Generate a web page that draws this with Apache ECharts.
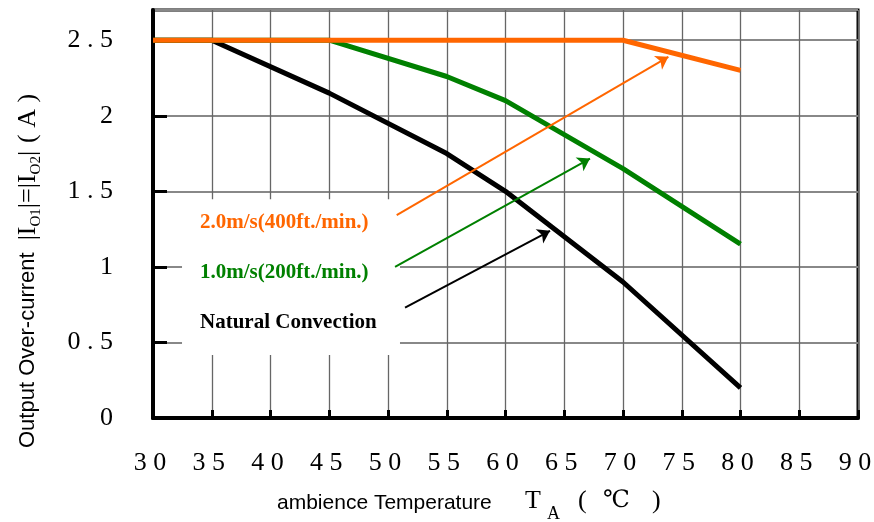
<!DOCTYPE html>
<html><head><meta charset="utf-8">
<script src="https://cdn.jsdelivr.net/npm/echarts@6/dist/echarts.min.js"></script>
<style>html,body{margin:0;padding:0;background:#fff}#c{width:874px;height:522px}</style>
</head><body><div id="c"></div>
<script>
// ---- data ----
const xMin = 30, xMax = 90, xStep = 5;
const yMin = 0, yMax = 2.7, yStep = 0.5;
const natTemp = [30, 35, 45, 55, 60, 70, 80];
const natVal  = [2.5, 2.5, 2.15, 1.75, 1.5, 0.9, 0.2];
const lowTemp = [30, 45, 55, 60, 70, 80];
const lowVal  = [2.5, 2.5, 2.26, 2.1, 1.65, 1.15];
const highTemp = [30, 70, 80];
const highVal  = [2.5, 2.5, 2.3];
const seriesNames = ['Natural Convection', '1.0m/s(200ft./min.)', '2.0m/s(400ft./min.)'];
const seriesColors = ['#000000', '#008000', '#FF6600'];
// annotation arrows (data coordinates): start, end
const arrowStart = [[51.45, 0.73], [50.6, 1.0], [50.74, 1.343]];
const arrowEnd   = [[63.79, 1.239], [67.19, 1.717], [73.86, 2.39]];
// white label box (data coordinates)
const boxFrom = [32.47, 0.417];
const boxTo   = [51.02, 1.448];

const SERIF = '"Liberation Serif","Times New Roman",serif';
const SANS = '"Liberation Sans",Arial,sans-serif';

function spaced(s){ return String(s).split('').join(' '); }
const ctx = document.createElement('canvas').getContext('2d');
function tw(t, font){ ctx.font = font; return ctx.measureText(t).width; }

const chart = echarts.init(document.getElementById('c'), null, {renderer:'canvas'});

function pairs(xs, ys){ return xs.map((x,i)=>[x, ys[i]]); }

// rotated y-axis name pieces
const fBig = '26px ' + SERIF, fSub = '15px ' + SERIF, fSans = '22px ' + SANS;
const yParts = [
  {t:'Output Over-current', f:fSans, dy:0},
  {gap:12},
  {t:'|I', f:fBig, dy:0},
  {t:'O1', f:fSub, dy:8},
  {t:'|=|I', f:fBig, dy:0},
  {t:'O2', f:fSub, dy:8},
  {t:'|', f:fBig, dy:0},
  {gap:8},
  {t:'( A )', f:fBig, dy:0}
];
let lx = 0; const yNameChildren = [];
yParts.forEach(p=>{
  if (p.gap){ lx += p.gap; return; }
  yNameChildren.push({type:'text', x:lx, y:p.dy, style:{text:p.t, font:p.f, fill:'#000', align:'left', verticalAlign:'middle'}});
  lx += tw(p.t, p.f);
});

const option = {
  animation:false,
  backgroundColor:'#fff',
  grid:{left:153, right:16, top:10, bottom:104, show:true, borderColor:'#000', borderWidth:3, outerBoundsMode:'none'},
  xAxis:{
    type:'value', min:xMin, max:xMax, interval:xStep,
    axisLine:{show:true, lineStyle:{color:'#000', width:4}},
    axisTick:{show:true, inside:true, length:8, lineStyle:{color:'#000', width:3}},
    axisLabel:{margin:32, fontFamily:SERIF, fontSize:26, color:'#000', formatter:v=>spaced(v), padding:[0,6,0,0]},
    splitLine:{show:true, lineStyle:{color:'#666', width:1.3}}
  },
  yAxis:{
    type:'value', min:yMin, max:yMax, interval:yStep,
    axisLine:{show:true, lineStyle:{color:'#000', width:4}},
    axisTick:{show:true, inside:true, length:14, lineStyle:{color:'#000', width:3}},
    axisLabel:{margin:40, fontFamily:SERIF, fontSize:26, color:'#000', showMaxLabel:false,
      formatter:v=>{ const r = Math.round(v*10)/10; if (Math.abs(r/yStep - Math.round(r/yStep))>1e-6) return ''; return spaced(r); }},
    splitLine:{show:true, lineStyle:{color:'#888', width:2}}
  },
  series:[
    {type:'line', name:seriesNames[0], data:pairs(natTemp, natVal), symbol:'none',
     lineStyle:{color:seriesColors[0], width:5}, itemStyle:{color:seriesColors[0]},
     markArea:{silent:true, itemStyle:{color:'#ffffff', opacity:1}, data:[[{coord:boxFrom},{coord:boxTo}]]}},
    {type:'line', name:seriesNames[1], data:pairs(lowTemp, lowVal), symbol:'none',
     lineStyle:{color:seriesColors[1], width:5}, itemStyle:{color:seriesColors[1]}},
    {type:'line', name:seriesNames[2], data:pairs(highTemp, highVal), symbol:'none',
     lineStyle:{color:seriesColors[2], width:5}, itemStyle:{color:seriesColors[2]}},
    {type:'lines', coordinateSystem:'cartesian2d', symbol:['none','arrow'], symbolSize:12, silent:true, z:5,
     data:arrowStart.map((s,i)=>({coords:[s, arrowEnd[i]], lineStyle:{color:seriesColors[i], width:2, opacity:1}}))}
  ],
  graphic:[
    {type:'text', x:200, y:223, z:100, style:{text:seriesNames[2], font:'bold 21px '+SERIF, fill:seriesColors[2], align:'left', verticalAlign:'middle'}},
    {type:'text', x:200, y:273, z:100, style:{text:seriesNames[1], font:'bold 21px '+SERIF, fill:seriesColors[1], align:'left', verticalAlign:'middle'}},
    {type:'text', x:200, y:323, z:100, style:{text:seriesNames[0], font:'bold 21px '+SERIF, fill:seriesColors[0], align:'left', verticalAlign:'middle'}},
    {type:'group', x:28, y:448, rotation:Math.PI/2, children:yNameChildren},
    {type:'text', x:277, y:503, style:{text:'ambience Temperature', font:'21px '+SANS, fill:'#000', align:'left', verticalAlign:'middle'}},
    {type:'text', x:525, y:501, style:{text:'T', font:fBig, fill:'#000', align:'left', verticalAlign:'middle'}},
    {type:'text', x:547, y:514, style:{text:'A', font:'18px '+SERIF, fill:'#000', align:'left', verticalAlign:'middle'}},
    {type:'text', x:578, y:501, style:{text:'(', font:fBig, fill:'#000', align:'left', verticalAlign:'middle'}},
    {type:'text', x:603, y:501, style:{text:'℃', font:'24px "DejaVu Serif",'+SERIF, fill:'#000', align:'left', verticalAlign:'middle'}},
    {type:'text', x:652, y:501, style:{text:')', font:fBig, fill:'#000', align:'left', verticalAlign:'middle'}}
  ]
};
chart.setOption(option);
</script></body></html>
